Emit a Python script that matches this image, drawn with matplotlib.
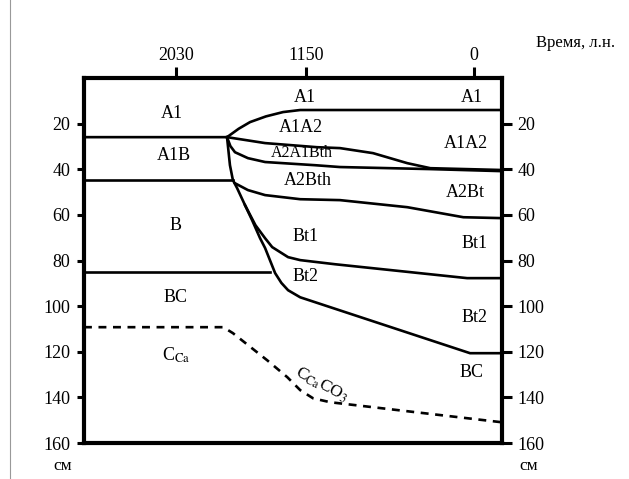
import matplotlib.pyplot as plt
from matplotlib.lines import Line2D

plt.rcParams["font.family"] = ["Liberation Serif", "DejaVu Serif"]
plt.rcParams["mathtext.fontset"] = "stix"

# horizontal position (0..100 across the frame) and depth, cm
time_labels = ["2030", "1150", "0"]
time_pos = [22.0, 53.0, 93.3]
depth_ticks = [20, 40, 60, 80, 100, 120, 140, 160]

a1_x = [0, 34.2, 37.0, 39.7, 43.5, 47.6, 51.7, 100]
a1_d = [25.9, 25.9, 22.2, 19.3, 16.8, 14.9, 14.0, 14.0]

a1a2_x = [34.2, 43.3, 55.7, 61.2, 69.1, 77.3, 82.8, 100]
a1a2_d = [25.9, 28.5, 30.3, 30.7, 32.9, 37.3, 39.5, 40.3]

a2a1bth_x = [34.2, 35.0, 36.1, 39.2, 43.3, 55.3, 61.2, 82.8, 100]
a2a1bth_d = [25.9, 29.8, 32.5, 35.1, 36.8, 38.2, 39.0, 39.9, 40.8]

a1b_x = [0, 35.6]
a1b_d = [44.7, 44.7]

a2bth_x = [36.1, 39.2, 43.3, 51.7, 61.2, 77.3, 90.7, 100]
a2bth_d = [46.1, 49.1, 51.3, 53.1, 53.5, 56.6, 61.0, 61.4]

bt1_x = [34.2, 34.9, 35.6, 36.6, 38.5, 41.0, 43.3, 45.0, 48.8, 51.7, 60.0, 91.6, 100]
bt1_d = [25.9, 38.2, 44.7, 48.2, 55.7, 64.5, 70.2, 74.1, 78.5, 79.8, 81.6, 87.7, 87.7]

bt2_x = [38.5, 40.2, 42.1, 43.3, 45.7, 47.2, 48.8, 51.7, 92.3, 100]
bt2_d = [55.7, 62.3, 70.2, 74.5, 85.5, 89.8, 93.0, 96.1, 120.6, 120.6]

bc_x = [0, 44.5]
bc_d = [85.1, 85.1]

caco3_x = [0, 33.3, 35.6, 43.8, 48.6, 51.7, 54.8, 58.9, 100]
caco3_d = [109.2, 109.2, 111.8, 123.7, 131.1, 136.8, 140.4, 142.1, 150.9]

horizon_names = ["A1", "A1B", "B", "BC", r"C$_{\mathrm{Ca}}$",
                 "A1", "A1A2", "A2A1Bth", "A2Bth", "Bt1", "Bt2",
                 "A1", "A1A2", "A2Bt", "Bt1", "Bt2", "BC"]
horizon_x = [21.0, 21.5, 21.8, 21.8, 22.0,
             52.9, 51.9, 52.2, 53.6, 52.9, 52.9,
             92.8, 91.4, 91.1, 93.3, 93.3, 92.6]
horizon_d = [15.4, 34.0, 64.5, 96.0, 121.5,
             8.3, 21.5, 33.0, 45.0, 69.3, 86.8,
             8.3, 28.5, 50.0, 72.4, 105.0, 129.0]

fig = plt.figure(figsize=(6.29, 4.79), dpi=100)
ax = fig.add_axes([0.1335, 0.075, 0.665, 0.762])

lw = 1.9
for xs, ds in [(a1_x, a1_d), (a1a2_x, a1a2_d), (a2a1bth_x, a2a1bth_d),
               (a1b_x, a1b_d), (a2bth_x, a2bth_d), (bt1_x, bt1_d),
               (bt2_x, bt2_d), (bc_x, bc_d)]:
    ax.plot(xs, ds, color="black", lw=lw, solid_joinstyle="round")
ax.plot(caco3_x, caco3_d, color="black", lw=lw, ls=(0, (3, 2.5)))

for name, x, d in zip(horizon_names, horizon_x, horizon_d):
    fs = 11.5 if name == "A2A1Bth" else 13
    ax.text(x, d, name, ha="center", va="center", fontsize=fs)
ax.text(56.9, 134.5, r"C$_{\mathrm{Ca}}$CO$_3$", ha="center", va="center",
        fontsize=12.5, rotation=-28)

ax.set_xlim(0, 100)
ax.set_ylim(160, 0)
for sp in ax.spines.values():
    sp.set_linewidth(3)

ax.set_yticks(depth_ticks)
ax.tick_params(axis="y", left=True, direction="out", length=5, width=2.2,
               labelsize=13, pad=5)
ax.xaxis.tick_top()
ax.set_xticks(time_pos)
ax.set_xticklabels(time_labels)
ax.tick_params(axis="x", top=True, bottom=False, direction="out", length=8,
               width=2.2, labelsize=13, pad=2)

ax2 = ax.twinx()
ax2.set_ylim(160, 0)
ax2.set_yticks(depth_ticks)
ax2.tick_params(axis="y", direction="out", length=7, width=2.2,
                labelsize=13, pad=4)
for sp in ax2.spines.values():
    sp.set_visible(False)

fig.text(0.852, 0.91, "Время, л.н.", fontsize=12, ha="left", va="center")
fig.text(0.1, 0.027, "см", fontsize=12.5, ha="center", va="center")
fig.text(0.84, 0.027, "см", fontsize=12.5, ha="center", va="center")

fig.add_artist(Line2D([0.016, 0.016], [0.0, 1.0], transform=fig.transFigure,
                      color="#999999", lw=0.8))

fig.savefig("out.png", dpi=100)
